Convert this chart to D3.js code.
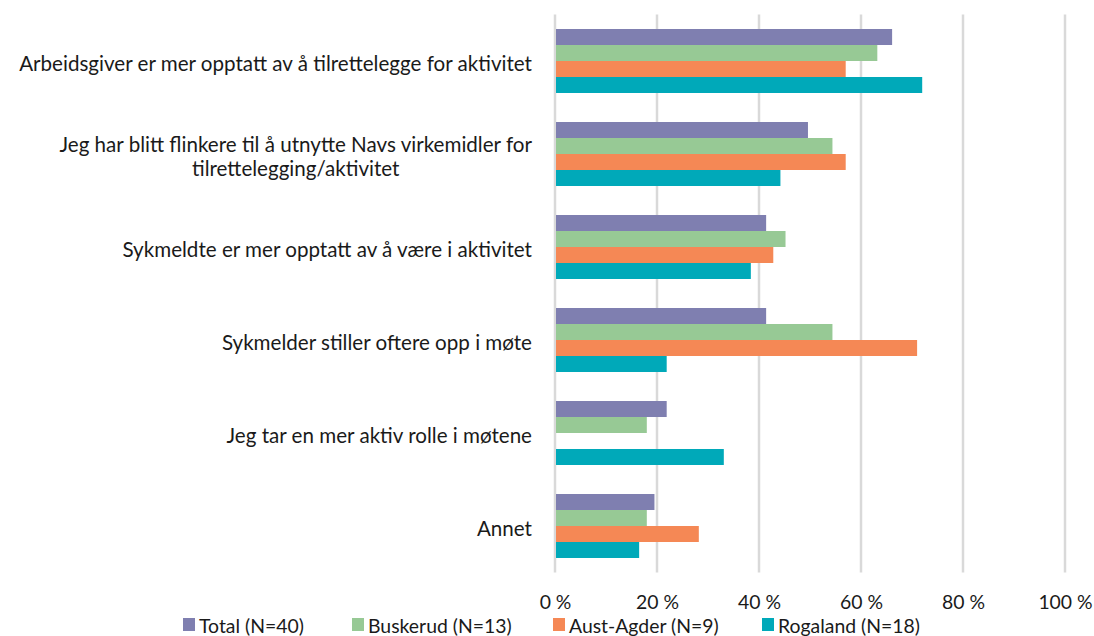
<!DOCTYPE html>
<html>
<head>
<meta charset="utf-8">
<script src="https://cdn.jsdelivr.net/npm/d3@7"></script>
<style>
  html, body { margin: 0; padding: 0; background: #ffffff; }
  svg { display: block; font-family: Lato, "Open Sans", sans-serif; }
</style>
</head>
<body>
<svg id="chart" width="1094" height="636"></svg>
<script>
// Survey statements (a "\n" marks a manual line break in the axis label)
const categories = [
  "Arbeidsgiver er mer opptatt av å tilrettelegge for aktivitet",
  "Jeg har blitt flinkere til å utnytte Navs virkemidler for\ntilrettelegging/aktivitet",
  "Sykmeldte er mer opptatt av å være i aktivitet",
  "Sykmelder stiller oftere opp i møte",
  "Jeg tar en mer aktiv rolle i møtene",
  "Annet"
];

const seriesNames = ["Total (N=40)", "Buskerud (N=13)", "Aust-Agder (N=9)", "Rogaland (N=18)"];
const seriesColors = ["#7f7fb0", "#97c995", "#f58855", "#00a9b9"];

// Share of respondents (%) per statement
const totalValues     = [66.1, 49.6, 41.4, 41.4, 21.9, 19.5];
const buskerudValues  = [63.2, 54.4, 45.2, 54.4, 18.0, 18.0];
const austAgderValues = [57.0, 57.0, 42.8, 71.0, 0,    28.2];
const rogalandValues  = [72.0, 44.2, 38.4, 21.9, 33.1, 16.5];

const xTicks = [0, 20, 40, 60, 80, 100];

const seriesValues = [totalValues, buskerudValues, austAgderValues, rogalandValues];

const svg = d3.select("#chart");
const plot = { left: 555, right: 1065, top: 14.5, bottom: 572.5 };
const labelFont = 20.6;
const smallFont = 19.4;

const x = d3.scaleLinear().domain([0, 100]).range([plot.left, plot.right]);

const y = d3.scaleBand()
  .domain(categories)
  .range([plot.top, plot.bottom])
  .paddingInner(0.312)
  .paddingOuter(0.156);

const ySub = d3.scaleBand()
  .domain(seriesNames)
  .range([0, y.bandwidth()])
  .padding(0);

// Vertical gridlines
svg.append("g")
  .selectAll("line")
  .data(xTicks)
  .join("line")
  .attr("x1", d => x(d)).attr("x2", d => x(d))
  .attr("y1", plot.top).attr("y2", plot.bottom)
  .attr("stroke", "#d9d9d9")
  .attr("stroke-width", 2.5);

// Bars
const rows = categories.map((c, i) => ({
  category: c,
  values: seriesNames.map((s, j) => ({ series: s, value: seriesValues[j][i], color: seriesColors[j] }))
}));

const groups = svg.append("g")
  .selectAll("g")
  .data(rows)
  .join("g")
  .attr("transform", d => `translate(0,${y(d.category)})`);

groups.selectAll("rect")
  .data(d => d.values.filter(v => v.value > 0))
  .join("rect")
  .attr("x", x(0) + 1)
  .attr("y", d => ySub(d.series))
  .attr("width", d => x(d.value) - x(0) - 1)
  .attr("height", ySub.bandwidth())
  .attr("fill", d => d.color);

// X axis tick labels
const xAxis = d3.axisBottom(x)
  .tickValues(xTicks)
  .tickFormat(d => d + " %")
  .tickSize(0)
  .tickPadding(0);

const xg = svg.append("g")
  .attr("transform", `translate(0,${plot.bottom})`)
  .call(xAxis);
xg.select(".domain").remove();
xg.selectAll("text")
  .attr("y", 28.5)
  .attr("dy", "0")
  .attr("dominant-baseline", "central")
  .attr("font-family", "Lato, 'Open Sans', sans-serif")
  .attr("font-size", smallFont)
  .attr("fill", "#1a1a1a");

// Category labels
const labelRight = 532;
const lineGap = 24;
const labels = svg.append("g")
  .attr("font-size", labelFont)
  .attr("fill", "#1a1a1a");

categories.forEach(c => {
  const lines = c.split("\n");
  const cy = y(c) + y.bandwidth() / 2 + 2;
  if (lines.length === 1) {
    labels.append("text")
      .attr("x", labelRight)
      .attr("y", cy)
      .attr("text-anchor", "end")
      .attr("dominant-baseline", "central")
      .text(c);
  } else {
    const t = labels.append("text")
      .attr("text-anchor", "middle")
      .attr("dominant-baseline", "central");
    lines.forEach((ln, k) => {
      t.append("tspan")
        .attr("y", cy + (k - (lines.length - 1) / 2) * lineGap)
        .text(ln);
    });
    const widest = d3.max(t.selectAll("tspan").nodes(), n => n.getComputedTextLength());
    t.selectAll("tspan").attr("x", labelRight - widest / 2);
  }
});

// Legend
const legendX = [183, 352, 553, 762];
const legend = svg.append("g")
  .selectAll("g")
  .data(seriesNames)
  .join("g")
  .attr("transform", (d, i) => `translate(${legendX[i]},0)`);

legend.append("rect")
  .attr("x", 0).attr("y", 618)
  .attr("width", 12).attr("height", 13)
  .attr("fill", (d, i) => seriesColors[i]);

legend.append("text")
  .attr("x", 16)
  .attr("y", 625)
  .attr("dominant-baseline", "central")
  .attr("font-size", smallFont)
  .attr("fill", "#1a1a1a")
  .text(d => d);
</script>
</body>
</html>
